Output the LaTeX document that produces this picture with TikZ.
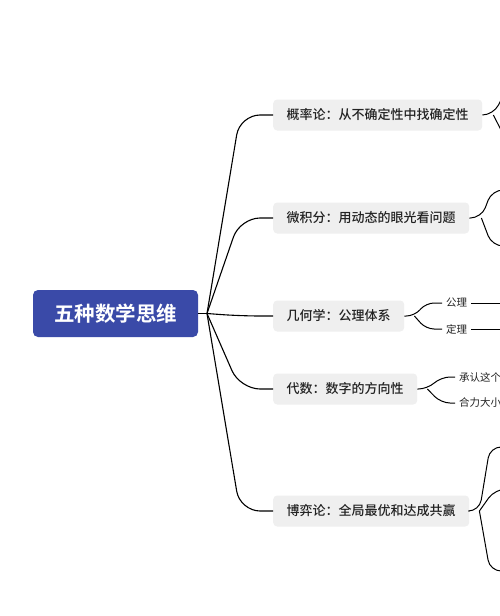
\documentclass[tikz,border=0pt]{standalone}
\usepackage{fontspec}
\setmainfont{Noto Sans CJK SC}[BoldFont={Noto Sans CJK SC Bold}]
\newfontfamily\topicfont{Noto Sans CJK SC Medium}
\usepackage{xcolor}
\usepackage{tikz}
\usetikzlibrary{positioning}

\definecolor{rootblue}{HTML}{3A4AA8}
\definecolor{topicgrey}{HTML}{EFEFEF}
\definecolor{inkdark}{HTML}{222222}

\begin{document}
\begin{tikzpicture}[x=1pt,y=-1pt,
  root/.style={fill=rootblue,text=white,rounded corners=5pt,minimum width=165pt,minimum height=47pt,font=\fontsize{20.5pt}{24pt}\selectfont\bfseries},
  topic/.style={fill=topicgrey,text=inkdark,rounded corners=4pt,minimum height=31pt,inner xsep=13.5pt,anchor=west,font=\fontsize{13pt}{15pt}\selectfont\topicfont},
  leaf/.style={inner xsep=4pt,inner ysep=2pt,anchor=west,text=inkdark,font=\fontsize{10.5pt}{12pt}\selectfont},
  branch/.style={draw=black,line width=1.1pt,rounded corners=20pt},
  twig/.style={draw=black,line width=1pt,rounded corners=11pt}
]
\useasboundingbox (0,0) rectangle (500,616);
\clip (0,0) rectangle (500,616);
\fill[white] (0,0) rectangle (500,616);

\node[root] (root) at (115.5,313.5) {五种数学思维};
\node[topic] (prob) at (273,115) {概率论：从不确定性中找确定性};
\node[topic] (calc) at (273,218) {微积分：用动态的眼光看问题};
\node[topic] (geom) at (273,316) {几何学：公理体系};
\node[topic] (alg) at (273,389) {代数：数字的方向性};
\node[topic] (game) at (273,511) {博弈论：全局最优和达成共赢};

\node[leaf] (axiom) at (442,303) {公理};
\node[leaf] (theorem) at (442,329) {定理};
\node[leaf] (admit) at (455,377) {承认这个};
\node[leaf] (force) at (455,403) {合力大小};

\coordinate (hub) at (207,313.5);
\coordinate (lane) at (240,0);
\coordinate (probj) at ([xshift=11pt]prob.east);
\coordinate (calcj) at ([xshift=12pt]calc.east);
\coordinate (geomj) at ([xshift=10pt]geom.east);
\coordinate (algj) at ([xshift=10pt]alg.east);
\coordinate (gamej) at ([xshift=10pt]game.east);

\draw[branch] (root.east) -- (hub);
\foreach \t in {prob,calc,geom,alg,game}
  \draw[branch] (hub) -- (\t.west -| lane) -- (\t.west);

\draw[twig] (prob.east) -- (probj) -- (506,90) -- (530,90);
\draw[twig] (probj) -- (506,140) -- (530,140);
\draw[twig] (calc.east) -- (calcj) -- (492,190) -- (530,190);
\draw[twig] (calcj) -- (492,246) -- (530,246);
\draw[twig,rounded corners=8pt] (geom.east) -- (geomj) -- (426,303) -- (axiom.west);
\draw[twig,rounded corners=8pt] (geomj) -- (426,329) -- (theorem.west);
\draw[twig] (axiom.east) -- (530,303);
\draw[twig] (theorem.east) -- (530,329);
\draw[twig,rounded corners=9pt] (alg.east) -- (algj) -- (441,377) -- (admit.west);
\draw[twig,rounded corners=9pt] (algj) -- (441,403) -- (force.west);
\draw[twig] (game.east) -- (gamej) -- (490,447) -- (530,447);
\draw[twig] (gamej) -- (495,489) -- (530,489);
\draw[twig] (gamej) -- (490,571) -- (530,571);
\end{tikzpicture}
\end{document}
